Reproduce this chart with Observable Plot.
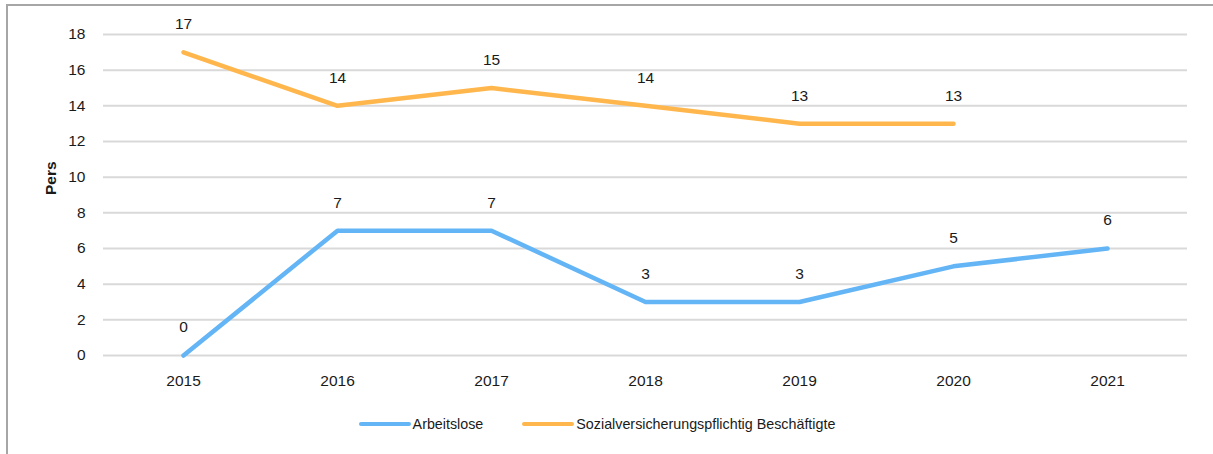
<!DOCTYPE html>
<html>
<head>
<meta charset="utf-8">
<script src="https://cdn.jsdelivr.net/npm/d3@7"></script>
<script src="https://cdn.jsdelivr.net/npm/@observablehq/plot@0.6"></script>
<style>
  html, body { margin: 0; padding: 0; background: #fff; overflow: hidden; }
  body { font-family: "Liberation Sans", Arial, sans-serif; }
  #frame {
    position: absolute; left: 6px; top: 4px; width: 1230px; height: 470px;
    border: 2px solid #a6a6a6; box-sizing: border-box; background: #fff;
  }
  #legend {
    display: flex; justify-content: center; align-items: center;
    margin-top: 12px; height: 20px; font-size: 14.3px; color: #1a1a1a;
    padding-right: 48px;
  }
  .item { display: flex; align-items: center; margin: 0 19.5px; }
  .sw { width: 52px; height: 4px; border-radius: 2px; margin-right: 2px; }
</style>
</head>
<body>
<div id="frame">
  <div id="chart"></div>
  <div id="legend"></div>
</div>
<script>
const years = ["2015", "2016", "2017", "2018", "2019", "2020", "2021"];
const arbeitslose = [0, 7, 7, 3, 3, 5, 6];
const beschaeftigte = [17, 14, 15, 14, 13, 13, null];
const seriesNames = ["Arbeitslose", "Sozialversicherungspflichtig Beschäftigte"];
const seriesColors = ["#64B5F6", "#FFB74D"];
const yTicks = [0, 2, 4, 6, 8, 10, 12, 14, 16, 18];
const yLabel = "Pers";

const rows = [];
years.forEach((y, i) => {
  rows.push({year: y, value: arbeitslose[i], series: seriesNames[0]});
  if (beschaeftigte[i] != null) rows.push({year: y, value: beschaeftigte[i], series: seriesNames[1]});
});

const chart = Plot.plot({
  width: 1204,
  height: 396,
  marginLeft: 95,
  marginRight: 25,
  marginTop: 28,
  marginBottom: 47,
  style: {fontFamily: "'Liberation Sans', Arial, sans-serif", fontSize: "15px", color: "#1a1a1a", background: "#fff"},
  x: {type: "point", domain: years, padding: 0.5, label: null},
  y: {domain: [0, 18], ticks: yTicks, label: null},
  color: {domain: seriesNames, range: seriesColors},
  marks: [
    Plot.gridY(yTicks, {stroke: "#d9d9d9", strokeOpacity: 1, strokeWidth: 2}),
    Plot.axisY(yTicks, {tickSize: 0, tickPadding: 18, label: null, fontSize: 15.5}),
    Plot.axisX(years, {tickSize: 0, tickPadding: 19, label: null, fontSize: 15.5}),
    Plot.text([yLabel], {frameAnchor: "left", rotate: -90, dx: -52, fontWeight: "bold", fontSize: 15.5}),
    Plot.line(rows, {x: "year", y: "value", z: "series", stroke: "series", strokeWidth: 4.5, strokeLinecap: "round", strokeLinejoin: "round"}),
    Plot.text(rows, {x: "year", y: "value", text: d => String(d.value), dy: -28, fontSize: 15.5, fill: "#1a1a1a"})
  ]
});
document.getElementById("chart").appendChild(chart);

const legend = document.getElementById("legend");
seriesNames.forEach((name, i) => {
  const item = document.createElement("div");
  item.className = "item";
  const sw = document.createElement("div");
  sw.className = "sw";
  sw.style.background = seriesColors[i];
  const t = document.createElement("span");
  t.textContent = name;
  item.appendChild(sw);
  item.appendChild(t);
  legend.appendChild(item);
});
</script>
</body>
</html>
